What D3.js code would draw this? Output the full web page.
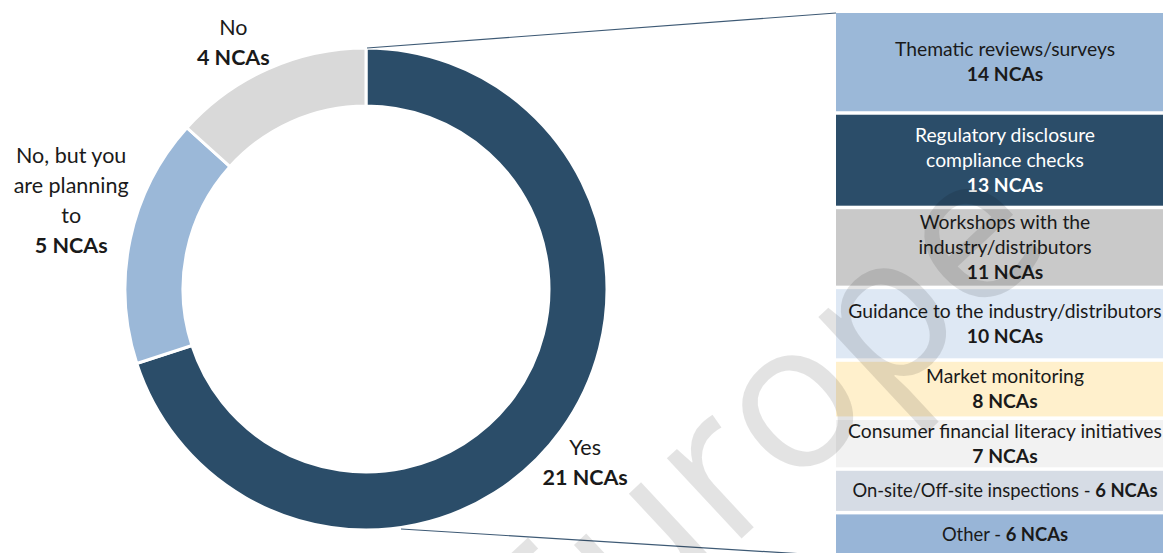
<!DOCTYPE html>
<html>
<head>
<meta charset="utf-8">
<script src="https://cdn.jsdelivr.net/npm/d3@7"></script>
<style>
  html, body { margin: 0; padding: 0; background: #fff; }
  svg { display: block; font-family: Lato, 'Noto Sans', sans-serif; }
</style>
</head>
<body>
<svg id="chart" width="1163" height="553"></svg>
<script>
// donut: answers
const answers = ['Yes', 'No, but you\nare planning\nto', 'No'];
const answerCounts = [21, 5, 4];
const answerColors = ['#2b4d69', '#9bb8d8', '#d9d9d9'];

// breakdown of the "Yes" answers
const tools = [
  'Thematic reviews/surveys',
  'Regulatory disclosure\ncompliance checks',
  'Workshops with the\nindustry/distributors',
  'Guidance to the industry/distributors',
  'Market monitoring',
  'Consumer financial literacy initiatives',
  'On-site/Off-site inspections',
  'Other'
];
const toolCounts = [14, 13, 11, 10, 8, 7, 6, 6];
const toolColors = ['#9bb8d8', '#2b4d69', '#c9c9c9', '#dee8f4', '#fff0cc', '#f2f2f2', '#d6dce5', '#98b5d7'];

const unit = ' NCAs';

const svg = d3.select('#chart');

// ---- donut
const cx = 366, cy = 289;
const outerR = 241, innerR = 183;

const pie = d3.pie().sort(null).value(d => d);
const arcs = pie(answerCounts);

const arc = d3.arc().innerRadius(innerR).outerRadius(outerR);

const donut = svg.append('g').attr('transform', `translate(${cx},${cy})`);

donut.selectAll('path')
  .data(arcs)
  .enter()
    .append('path')
    .attr('d', arc)
    .attr('fill', (d, i) => answerColors[i])
    .attr('stroke', '#fff')
    .attr('stroke-width', 3);

// labels sit roughly on a ring outside the donut, nudged by hand
const labelArc = d3.arc().innerRadius(282).outerRadius(282);
const labelNudge = [[-9, 8], [-19, -30], [-18, 11]];

arcs.forEach((d, i) => {
  let [lx, ly] = labelArc.centroid(d);
  lx += labelNudge[i][0];
  ly += labelNudge[i][1];
  const lines = answers[i].split('\n');
  const all = lines.map(t => ({ t, bold: false })).concat([{ t: answerCounts[i] + unit, bold: true }]);
  const lh = 30;
  const y0 = ly - (all.length - 1) * lh / 2;
  const t = donut.append('text')
    .attr('text-anchor', 'middle')
    .attr('font-size', 21.5)
    .attr('fill', '#1a1a1a');
  all.forEach((l, j) => {
    t.append('tspan')
      .attr('x', lx)
      .attr('y', y0 + j * lh)
      .attr('dy', '0.35em')
      .attr('font-weight', l.bold ? 700 : 400)
      .text(l.t);
  });
});

// ---- stacked boxes on the right
const boxX = 836, boxW = 338;
const total = d3.sum(toolCounts);
const y = d3.scaleLinear().domain([0, total]).range([13, 558]);
const gap = 3.5;

let cum = 0;
const stack = toolCounts.map((v, i) => {
  const d = { i, v, y0: cum, y1: cum + v };
  cum += v;
  return d;
});

// connector lines from the "Yes" slice to the boxes
const yesArc = arcs[0];
const pTop = [cx + outerR * Math.sin(yesArc.startAngle) + 1, cy - outerR * Math.cos(yesArc.startAngle)];
svg.append('line')
  .attr('x1', pTop[0]).attr('y1', pTop[1])
  .attr('x2', boxX).attr('y2', y(0))
  .attr('stroke', '#3e5a75').attr('stroke-width', 1.2);
svg.append('line')
  .attr('x1', cx + 35).attr('y1', cy + outerR - 1)
  .attr('x2', boxX).attr('y2', y(total) - 2)
  .attr('stroke', '#3e5a75').attr('stroke-width', 1.2);

const boxes = svg.append('g');
boxes.selectAll('rect')
  .data(stack)
  .enter()
    .append('rect')
    .attr('x', boxX)
    .attr('y', d => y(d.y0))
    .attr('width', boxW)
    .attr('height', d => y(d.y1) - y(d.y0) - gap)
    .attr('fill', d => toolColors[d.i]);

const inline = new Set([6, 7]);
const textX = 1005;
stack.forEach(d => {
  const mid = (y(d.y0) + y(d.y1) - gap) / 2;
  const fill = d.i === 1 ? '#ffffff' : '#1a1a1a';
  const t = boxes.append('text')
    .attr('text-anchor', 'middle')
    .attr('font-size', 19.3)
    .attr('fill', fill);
  if (inline.has(d.i)) {
    t.attr('font-size', 18.4);
    const ts = t.append('tspan').attr('x', textX).attr('y', mid).attr('dy', '0.35em');
    ts.append('tspan').text(tools[d.i] + ' - ');
    ts.append('tspan').attr('font-weight', 700).text(toolCounts[d.i] + unit);
    return;
  }
  const lines = tools[d.i].split('\n').map(s => ({ s, bold: false }))
    .concat([{ s: toolCounts[d.i] + unit, bold: true }]);
  const lh = 25;
  const y0 = mid - (lines.length - 1) * lh / 2;
  lines.forEach((l, j) => {
    t.append('tspan')
      .attr('x', textX)
      .attr('y', y0 + j * lh)
      .attr('dy', '0.35em')
      .attr('font-weight', l.bold ? 700 : 400)
      .text(l.s);
  });
});

// faint watermark laid over everything on the lower right
svg.append('text')
  .attr('transform', 'translate(768,440) rotate(-43)')
  .attr('text-anchor', 'middle')
  .attr('dy', 54)
  .attr('font-family', "'Open Sans', sans-serif")
  .attr('font-weight', 400)
  .attr('font-size', 205)
  .attr('fill', '#000')
  .attr('fill-opacity', 0.11)
  .attr('pointer-events', 'none')
  .text('Europe');
</script>
</body>
</html>
